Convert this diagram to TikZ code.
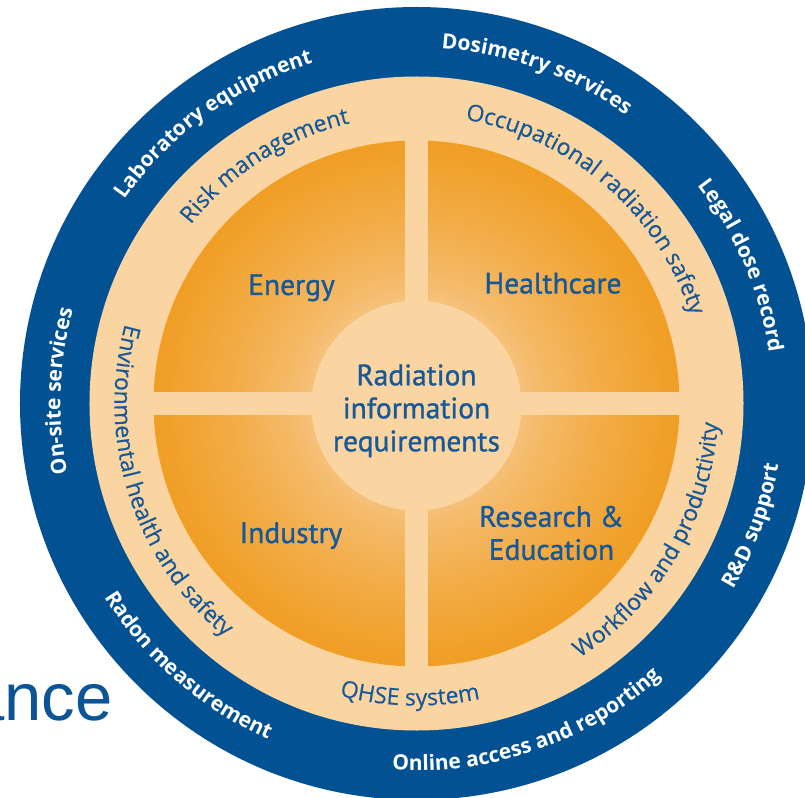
\documentclass[tikz,border=0pt]{standalone}
\usepackage{fontspec}
\setmainfont{Open Sans}
\newfontfamily\ringfont{Open Sans}
\newfontfamily\ringlightfont{Open Sans}[FakeBold=0.4]
\newfontfamily\sectorfont{PT Sans}[FakeBold=1.0]
\newfontfamily\headfont{Liberation Sans}
\usetikzlibrary{decorations.text}

\definecolor{ringblue}{RGB}{2,82,147}
\definecolor{cream}{RGB}{251,213,161}
\definecolor{orangedark}{RGB}{240,158,36}
\definecolor{orangelight}{RGB}{246,196,130}
\definecolor{inkblue}{RGB}{22,88,152}
\definecolor{headblue}{RGB}{12,84,150}

\newcommand\outerfmt{\ringfont\bfseries\fontsize{21}{21}\selectfont\color{white}}
\newcommand\innerfmt{\ringlightfont\fontsize{23}{23}\selectfont\color{inkblue}}

\tikzset{
  outerlabel/.style={decorate, decoration={text along path, text align=center,
      text={|\outerfmt|#1}}},
  innerlabel/.style={decorate, decoration={text along path, text align=center,
      text={|\innerfmt|#1}}},
  sector/.style={inner sep=0pt, text=inkblue,
      font=\sectorfont\fontsize{29.5}{33}\selectfont},
}

\begin{document}
\begin{tikzpicture}[x=1pt,y=1pt]
  \useasboundingbox (-416.5pt,-393.5pt) rectangle (388.5pt,403.5pt);
  \fill[white] (-416.5pt,-393.5pt) rectangle (388.5pt,403.5pt);

  % rings
  \fill[ringblue] (0,0) circle[radius=396.5pt];
  \fill[cream] (0,0) circle[radius=327pt];

  % sector fill: concentric discs, full orange at the rim, pale next to the hub
  \foreach \i in {0,...,80} {
    \pgfmathsetmacro\rad{263-2*\i}
    \pgfmathsetmacro\mix{max(0,min(100,100*((\rad-100)/163)^0.75))}
    \fill[orangedark!\mix!orangelight] (0,0) circle[radius=\rad pt];
  }

  % cross bars and hub
  \fill[cream] (-264pt,-11.5pt) rectangle (264pt,11.5pt);
  \fill[cream] (-11.5pt,-264pt) rectangle (11.5pt,264pt);
  \fill[cream] (0,-2pt) circle[radius=105pt];

  % outer ring, reading clockwise
  \path[outerlabel={Laboratory equipment}] (186:356pt) arc[start angle=186, end angle=66, radius=356pt];
  \path[outerlabel={Dosimetry services}] (130:356pt) arc[start angle=130, end angle=10, radius=356pt];
  \path[outerlabel={Legal dose record}] (83:356pt) arc[start angle=83, end angle=-37, radius=356pt];
  \path[outerlabel={On-site services}] (238:356pt) arc[start angle=238, end angle=118, radius=356pt];
  % outer ring, reading counter-clockwise
  \path[outerlabel={R{\&}D support}] (-80:367pt) arc[start angle=-80, end angle=40, radius=367pt];
  \path[outerlabel={Online access and reporting}] (-131:367pt) arc[start angle=-131, end angle=-11, radius=367pt];
  \path[outerlabel={Radon measurement}] (-191:367pt) arc[start angle=-191, end angle=-71, radius=367pt];

  % inner ring, reading clockwise
  \path[innerlabel={Risk management}] (182.5:288pt) arc[start angle=182.5, end angle=62.5, radius=288pt];
  \path[innerlabel={Occupational radiation safety}] (109:288pt) arc[start angle=109, end angle=-11, radius=288pt];
  % inner ring, reading counter-clockwise
  \path[innerlabel={Workflow and productivity}] (-90.5:302pt) arc[start angle=-90.5, end angle=29.5, radius=302pt];
  \path[innerlabel={QHSE system}] (-151.3:302pt) arc[start angle=-151.3, end angle=-31.3, radius=302pt];
  \path[innerlabel={Environmental health and safety}] (137.7:302pt) arc[start angle=137.7, end angle=257.7, radius=302pt];

  % sector and hub labels
  \node[sector, anchor=base] (energy) at (-125pt,108.5pt) {Energy};
  \node[sector, anchor=base] (health) at (136.5pt,110pt) {Healthcare};
  \node[sector, anchor=base] (industry) at (-125.5pt,-139.5pt) {Industry};
  \node[sector, align=center] (research) at (135pt,-129.5pt) {Research \&\\Education};
  \node[sector, align=center] (hub) at (0,-7.3pt) {Radiation\\information\\requirements};

  % heading fragment at the left edge
  \node[inner sep=0pt, anchor=base east, text=headblue,
        font=\headfont\fontsize{67}{67}\selectfont] (head) at (-304pt,-316.5pt) {ance};
\end{tikzpicture}
\end{document}
